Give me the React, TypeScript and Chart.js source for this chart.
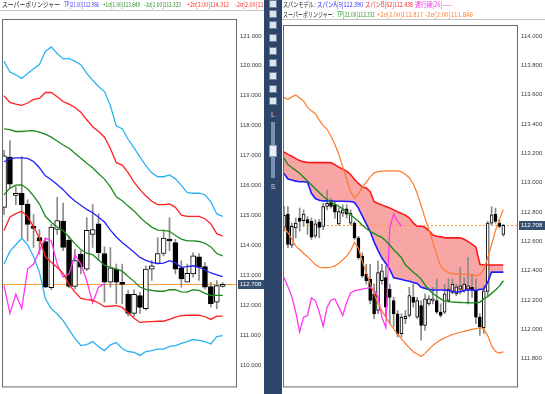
import React, { useEffect, useLayoutEffect, useRef } from 'react';
import { Chart, registerables } from 'chart.js';

Chart.register(...registerables);

// ---------------- LEFT PANEL (super bollinger, 38 bars) ----------------
const L_OPEN = [115.28,116.96,115.68,115.75,115.39,114.65,114.27,114.14,112.60,114.54,114.82,114.18,112.64,113.72,113.22,114.38,114.73,113.74,112.78,113.22,112.78,112.38,111.74,112.34,111.90,113.22,113.41,113.74,114.22,114.10,113.26,112.78,113.06,113.63,113.30,112.64,112.12,112.64];
const L_HIGH = [117.18,117.51,115.97,116.97,115.53,115.04,114.54,114.25,114.71,115.61,115.42,114.32,113.88,113.83,114.93,115.37,115.06,113.96,113.94,113.39,113.39,112.51,112.53,112.45,113.33,113.50,114.27,114.49,114.93,114.21,113.50,113.39,113.77,113.74,113.44,112.78,112.84,112.77];
const L_LOW = [115.04,115.92,115.37,114.27,114.16,113.94,113.72,112.60,112.53,114.38,113.83,112.60,112.56,113.06,113.17,113.94,113.50,112.12,112.62,112.07,112.07,111.65,111.63,111.74,111.85,112.84,113.39,113.66,113.83,113.06,112.62,112.78,112.95,112.84,112.56,111.96,111.90,112.62];
const L_CLOSE = [117.00,116.05,115.75,115.37,114.71,114.58,114.16,112.62,114.62,114.84,113.94,112.64,113.50,113.28,114.51,114.54,113.77,112.78,113.26,112.78,112.71,111.74,112.38,111.94,113.22,113.33,113.74,114.25,114.16,113.22,112.89,113.08,113.66,113.28,112.62,112.07,112.67,112.71];
const L_P3 = [120.15,119.79,119.70,119.58,119.74,119.90,120.04,120.48,120.63,120.41,120.23,120.25,120.15,120.04,119.75,119.52,119.31,119.14,118.67,117.99,117.90,117.55,117.26,116.96,116.67,116.43,116.30,116.30,116.36,116.23,116.01,115.77,115.75,115.75,115.70,115.46,115.06,114.98];
const L_P2 = [119.00,118.78,118.72,118.68,118.76,118.88,118.91,119.11,119.11,118.97,118.81,118.72,118.61,118.45,118.20,117.97,117.81,117.62,117.24,116.77,116.69,116.44,116.12,115.87,115.66,115.48,115.37,115.37,115.39,115.28,115.02,114.98,114.98,114.98,114.90,114.73,114.40,114.32];
const L_P1 = [117.90,117.87,117.81,117.81,117.83,117.84,117.79,117.72,117.62,117.49,117.36,117.25,117.08,116.92,116.75,116.60,116.40,116.22,115.96,115.63,115.50,115.32,115.16,114.95,114.77,114.62,114.52,114.51,114.48,114.34,114.22,114.16,114.16,114.14,114.08,113.96,113.74,113.66];
const L_TP = [116.80,116.90,116.93,116.93,116.91,116.81,116.60,116.33,116.20,116.04,115.87,115.66,115.49,115.35,115.21,115.10,114.95,114.79,114.52,114.29,114.11,113.95,113.78,113.61,113.51,113.44,113.40,113.42,113.50,113.43,113.28,113.30,113.33,113.28,113.19,113.09,113.03,112.97];
const L_M1 = [115.70,115.92,116.02,116.03,115.89,115.66,115.39,114.98,114.78,114.62,114.50,114.29,114.07,113.87,113.75,113.70,113.52,113.35,113.28,113.22,113.15,112.97,112.81,112.62,112.54,112.51,112.48,112.48,112.53,112.53,112.46,112.45,112.53,112.51,112.41,112.34,112.34,112.34];
const L_M2 = [114.51,114.96,115.07,115.15,114.97,114.63,114.25,113.63,113.45,113.28,113.08,112.71,112.45,112.24,112.20,112.18,112.09,111.97,111.98,112.00,111.94,111.76,111.58,111.44,111.46,111.47,111.48,111.48,111.54,111.62,111.67,111.68,111.68,111.68,111.63,111.54,111.65,111.65];
const L_M3 = [113.39,113.81,114.03,114.25,114.03,113.63,113.11,112.23,111.90,111.72,111.50,111.20,110.91,110.67,110.70,110.80,110.63,110.50,110.69,110.77,110.57,110.47,110.44,110.34,110.47,110.50,110.55,110.55,110.64,110.67,110.74,110.80,110.87,110.84,110.80,110.72,110.97,111.00];
const L_LAG = [112.68,111.74,112.38,111.90,113.22,113.39,113.83,114.25,114.16,113.39,112.95,113.06,113.70,113.39,112.84,112.09,112.62,112.73];
const L_TICKS = [110, 111, 112, 113, 114, 115, 116, 117, 118, 119, 120, 121];
const L_LAST = 112.708;

// ---------------- RIGHT PANEL (span model + bollinger, 57 bars) ----------------
const R_OPEN = [112.695,112.785,112.574,112.691,112.758,112.740,112.747,112.736,112.634,112.731,112.702,112.837,112.871,112.848,112.718,112.792,112.821,112.724,112.724,112.623,112.499,112.376,112.342,112.241,112.128,112.331,112.353,112.274,112.196,112.106,111.971,112.072,112.094,112.218,112.083,112.162,112.027,112.173,112.196,112.196,112.117,112.117,112.196,112.252,112.241,112.274,112.263,112.274,112.286,112.263,112.083,112.011,112.259,112.724,112.785,112.724,112.646];
const R_HIGH = [112.837,112.837,112.724,112.758,112.826,112.814,112.769,112.758,112.747,112.747,112.859,112.949,112.893,112.871,112.826,112.848,112.848,112.814,112.736,112.634,112.522,112.443,112.443,112.308,112.466,112.443,112.432,112.308,112.218,112.128,112.106,112.128,112.286,112.308,112.218,112.196,112.241,112.229,112.286,112.342,112.173,112.308,112.342,112.342,112.308,112.421,112.353,112.488,112.376,112.342,112.106,112.297,112.736,112.837,112.826,112.747,112.716];
const R_LOW = [112.668,112.556,112.556,112.623,112.668,112.702,112.646,112.612,112.623,112.623,112.679,112.814,112.826,112.758,112.709,112.769,112.758,112.709,112.612,112.477,112.353,112.308,112.173,112.072,112.106,112.308,112.083,112.038,112.016,111.948,111.948,112.038,112.083,112.151,112.072,111.926,111.993,112.162,112.173,112.106,112.083,112.106,112.184,112.241,112.229,112.241,112.252,112.173,112.218,112.038,111.959,111.971,112.229,112.713,112.724,112.691,112.634];
const R_CLOSE = [112.776,112.578,112.702,112.724,112.736,112.785,112.724,112.628,112.718,112.695,112.837,112.859,112.837,112.799,112.803,112.814,112.785,112.792,112.623,112.488,112.364,112.331,112.196,112.106,112.387,112.398,112.151,112.218,112.106,111.971,112.083,112.088,112.229,112.184,112.196,112.027,112.207,112.207,112.207,112.117,112.094,112.241,112.274,112.308,112.290,112.297,112.308,112.297,112.268,112.083,112.016,112.263,112.724,112.781,112.736,112.702,112.708];
const R_SPAN_B = [113.208,113.192,113.179,113.163,113.150,113.141,113.138,113.136,113.136,113.136,113.136,113.136,113.136,113.122,113.105,113.091,113.078,113.055,113.021,112.994,112.970,112.963,112.938,112.871,112.857,112.848,112.837,112.826,112.814,112.801,112.790,112.778,112.758,112.724,112.702,112.702,112.695,112.673,112.643,112.634,112.630,112.625,112.623,112.623,112.623,112.623,112.614,112.598,112.580,112.560,112.443,112.438,112.438,112.438,112.438,112.438,112.438];
const R_SPAN_A = [113.062,113.024,113.017,113.010,113.006,113.006,113.003,112.927,112.891,112.880,112.875,112.875,112.875,112.873,112.873,112.873,112.871,112.871,112.864,112.826,112.772,112.719,112.666,112.596,112.538,112.486,112.449,112.409,112.351,112.346,112.340,112.333,112.328,112.319,112.313,112.286,112.279,112.272,112.268,112.268,112.268,112.268,112.265,112.259,112.254,112.256,112.265,112.268,112.268,112.265,112.272,112.274,112.319,112.390,112.390,112.390,112.390];
const R_TP = [113.167,113.123,113.103,113.083,113.064,113.037,113.011,112.985,112.958,112.932,112.905,112.885,112.867,112.854,112.838,112.821,112.803,112.781,112.759,112.736,112.709,112.687,112.667,112.654,112.639,112.626,112.604,112.574,112.542,112.516,112.487,112.440,112.414,112.389,112.369,112.342,112.302,112.270,112.244,112.225,112.207,112.194,112.190,112.185,112.184,112.183,112.182,112.181,112.180,112.182,112.184,112.209,112.223,112.245,112.268,112.294,112.331];
const R_UP2 = [113.579,113.568,113.584,113.597,113.577,113.555,113.514,113.489,113.469,113.426,113.390,113.363,113.316,113.260,113.192,113.107,113.021,112.938,112.895,112.925,112.965,113.003,113.039,113.066,113.075,113.078,113.080,113.080,113.080,113.080,113.073,113.055,113.033,112.992,112.927,112.844,112.758,112.677,112.592,112.506,112.430,112.403,112.385,112.380,112.378,112.376,112.376,112.371,112.369,112.364,112.373,112.405,112.488,112.578,112.673,112.751,112.817];
const R_LO2 = [112.691,112.659,112.614,112.567,112.544,112.517,112.495,112.468,112.441,112.423,112.421,112.421,112.423,112.432,112.450,112.472,112.499,112.535,112.592,112.553,112.463,112.385,112.313,112.241,112.178,112.126,112.081,112.040,112.002,111.968,111.935,111.903,111.874,111.847,111.831,111.815,111.836,111.863,111.890,111.910,111.928,111.941,111.953,111.964,111.973,111.980,111.986,111.993,112.000,112.004,112.011,112.004,111.957,111.887,111.849,111.838,111.846];
const R_LAG = [112.353,112.290,112.223,112.117,111.982,112.083,112.094,112.214,112.196,112.117,112.020,112.151,112.200,112.207,112.151,112.094,112.184,112.247,112.263,112.268,112.274,112.279,112.286,112.268,112.223,112.083,112.011,112.691,112.785,112.736,112.704];
const R_TICKS = [111.8, 112.0, 112.2, 112.4, 112.6, 112.8, 113.0, 113.2, 113.4, 113.6, 113.8, 114.0];
const R_LAST = 112.708;

// ---------------- header texts ----------------
type Seg = { text: string; x: number; y: number; w: number; color: string };
const LEFT_HEADER: Seg[] = [
  { text: 'スーパーボリンジャー', x: 2, y: 0, w: 58, color: '#1e1e1e' },
  { text: 'TP[21.00]112.986', x: 64, y: 0, w: 35, color: '#3a3aff' },
  { text: '+1σ[1.00]113.649', x: 103, y: 0, w: 37, color: '#2a8f2a' },
  { text: '-1σ[1.00]112.323', x: 144, y: 0, w: 37, color: '#2a8f2a' },
  { text: '+2σ[2.00]114.312', x: 187, y: 0, w: 42, color: '#ff2e2e' },
  { text: '-2σ[2.00]111.660', x: 235, y: 0, w: 42, color: '#ff2e2e' },
];
const RIGHT_HEADER: Seg[] = [
  { text: 'スパンモデル:', x: 283, y: 0, w: 32, color: '#1e1e1e' },
  { text: 'スパンA[9]112.390', x: 317, y: 0, w: 46, color: '#2a2aff' },
  { text: 'スパンB[52]112.438', x: 365, y: 0, w: 48, color: '#ff2424' },
  { text: '遅行線[26]——', x: 415, y: 0, w: 37, color: '#ff2cf0' },
  { text: 'スーパーボリンジャー:', x: 283, y: 10, w: 51, color: '#1e1e1e' },
  { text: 'TP[21.00]112.331', x: 337, y: 10, w: 38, color: '#2a8f2a' },
  { text: '+2σ[2.00]112.817', x: 377, y: 10, w: 46, color: '#ff7f2e' },
  { text: '-2σ[2.00]111.846', x: 425, y: 10, w: 48, color: '#ff7f2e' },
];
const TOOL_ICONS = [0, 10, 21, 34, 47, 59, 72, 85, 97];

// ---------------- helpers ----------------
function candleSets(o: number[], h: number[], l: number[], c: number[], bodyW: number) {
  return [
    {
      type: 'bar', label: 'wick', order: 20, grouped: false, barThickness: 1, borderWidth: 0,
      backgroundColor: '#8a8a8a',
      data: h.map((v, i) => ({ x: i, y: [l[i], v] })),
    },
    {
      type: 'bar', label: 'body', order: 10, grouped: false, barThickness: bodyW,
      borderWidth: 1, borderSkipped: false, borderColor: '#000000',
      backgroundColor: c.map((v, i) => (v >= o[i] ? '#ffffff' : '#000000')),
      data: o.map((v, i) => ({ x: i, y: [v, c[i]] })),
    },
  ];
}

function lineSet(values: number[], color: string, width: number, extra: any = {}) {
  return {
    type: 'line', order: 1, borderColor: color, borderWidth: width, pointRadius: 0, tension: 0, fill: false,
    data: values.map((v, i) => ({ x: i, y: v })),
    ...extra,
  };
}

function lastPricePlugin(last: number, dashed: boolean) {
  return {
    id: 'lastPrice',
    beforeDatasetsDraw(chart: any) {
      const { ctx, chartArea: a } = chart;
      const py = Math.round(chart.scales.y.getPixelForValue(last)) + 0.5;
      ctx.save();
      ctx.strokeStyle = '#ff9a3c';
      ctx.lineWidth = 1;
      ctx.setLineDash(dashed ? [2, 2] : []);
      ctx.beginPath();
      ctx.moveTo(a.left, py);
      ctx.lineTo(a.right, py);
      ctx.stroke();
      ctx.restore();
    },
    afterDraw(chart: any) {
      const { ctx, chartArea: a, width } = chart;
      ctx.save();
      ctx.strokeStyle = '#6a6a6a';
      ctx.lineWidth = 1;
      ctx.strokeRect(a.left + 0.5, a.top + 0.5, a.right - a.left - 1, a.bottom - a.top - 1);
      const py = Math.round(chart.scales.y.getPixelForValue(last));
      ctx.fillStyle = '#35516f';
      ctx.fillRect(a.right + 1, py - 4, width - a.right - 1, 9);
      ctx.fillStyle = '#ffffff';
      ctx.font = '6px "Liberation Sans", Arial, sans-serif';
      ctx.textBaseline = 'middle';
      ctx.textAlign = 'left';
      ctx.fillText(last.toFixed(3), a.right + 3, py + 0.5);
      ctx.restore();
    },
  };
}

function baseOptions(o: { padLeft: number; padTop: number; axisW: number; xMin: number; xMax: number; yMin: number; yMax: number; ticks: number[] }) {
  return {
    responsive: false,
    animation: false,
    events: [],
    layout: { padding: { left: o.padLeft, top: o.padTop, right: 0, bottom: 3 } },
    plugins: {
      legend: { display: false },
      tooltip: { enabled: false },
      filler: { drawTime: 'beforeDatasetsDraw' },
    },
    scales: {
      x: { type: 'linear', min: o.xMin, max: o.xMax, display: false, offset: false },
      y: {
        type: 'linear', position: 'right', min: o.yMin, max: o.yMax, beginAtZero: false,
        grid: { display: false, drawTicks: false },
        border: { display: false },
        ticks: {
          color: '#3a3a3a', padding: 3, autoSkip: false,
          font: { size: 6, family: '"Liberation Sans", Arial, sans-serif' },
          callback: (v: any) => Number(v).toFixed(3),
        },
        afterBuildTicks: (ax: any) => { ax.ticks = o.ticks.map((v) => ({ value: v })); },
        afterFit: (ax: any) => { ax.width = o.axisW; },
      },
    },
  };
}

function buildLeft(): any {
  return {
    type: 'bar',
    data: {
      datasets: [
        ...candleSets(L_OPEN, L_HIGH, L_LOW, L_CLOSE, 5),
        lineSet(L_P3, '#2bb3f0', 1.3),
        lineSet(L_P2, '#ff2020', 1.3),
        lineSet(L_P1, '#1e8a1e', 1.3),
        lineSet(L_TP, '#2222ff', 1.3),
        lineSet(L_M1, '#1e8a1e', 1.3),
        lineSet(L_M2, '#ff2020', 1.3),
        lineSet(L_M3, '#2bb3f0', 1.3),
        lineSet(L_LAG, '#ff36f0', 1.3),
      ],
    },
    options: baseOptions({ padLeft: 2, padTop: 19, axisW: 28, xMin: -0.34, xMax: 39.42, yMin: 109.273, yMax: 121.562, ticks: L_TICKS }),
    plugins: [lastPricePlugin(L_LAST, false)],
  };
}

function buildRight(): any {
  return {
    type: 'bar',
    data: {
      datasets: [
        lineSet(R_SPAN_B, '#ff1a1a', 1.6, { order: 2 }),
        lineSet(R_SPAN_A, '#1c1cff', 1.6, { order: 2, fill: '-1', backgroundColor: '#f8a5a5' }),
        ...candleSets(R_OPEN, R_HIGH, R_LOW, R_CLOSE, 3),
        lineSet(R_UP2, '#ff7a2a', 1.2),
        lineSet(R_LO2, '#ff7a2a', 1.2),
        lineSet(R_TP, '#1e8a1e', 1.4),
        lineSet(R_LAG, '#ff36f0', 1.3),
      ],
    },
    options: baseOptions({ padLeft: 2, padTop: 25, axisW: 27, xMin: -0.255, xMax: 59.74, yMin: 111.604, yMax: 114.074, ticks: R_TICKS }),
    plugins: [lastPricePlugin(R_LAST, true)],
  };
}

function ChartCanvas({ left, width, build }: { left: number; width: number; build: () => any }) {
  const ref = useRef<HTMLCanvasElement | null>(null);
  useEffect(() => {
    if (!ref.current) return;
    const chart = new Chart(ref.current, build());
    return () => chart.destroy();
  }, []);
  return <canvas ref={ref} width={width} height={394} style={{ position: 'absolute', left, top: 0 }} />;
}

function FitText({ seg }: { seg: Seg }) {
  const ref = useRef<HTMLSpanElement | null>(null);
  useLayoutEffect(() => {
    const el = ref.current;
    if (!el) return;
    el.style.transform = 'none';
    const natural = el.getBoundingClientRect().width;
    if (natural > 0) el.style.transform = `scaleX(${seg.w / natural})`;
  }, [seg]);
  return (
    <span
      ref={ref}
      style={{
        position: 'absolute', left: seg.x, top: seg.y, color: seg.color, whiteSpace: 'nowrap',
        fontSize: 7, lineHeight: '9px', fontFamily: '"Noto Sans CJK JP", "Noto Sans", sans-serif',
        transformOrigin: '0 0',
      }}
    >
      {seg.text}
    </span>
  );
}

export default function App() {
  return (
    <div style={{ position: 'fixed', left: 0, top: 0, width: 545, height: 394, background: '#ffffff', overflow: 'hidden' }}>
      <ChartCanvas left={0} width={265} build={buildLeft} />
      <ChartCanvas left={281} width={264} build={buildRight} />
      <div style={{ position: 'absolute', left: 0, top: 0, width: 264, height: 12, overflow: 'hidden' }}>
        {LEFT_HEADER.map((s, i) => <FitText key={i} seg={s} />)}
      </div>
      <div style={{ position: 'absolute', left: 0, top: 10, width: 264, height: 1, background: '#c4c4c4' }} />
      <div style={{ position: 'absolute', left: 0, top: 0, width: 545, height: 22, overflow: 'hidden', pointerEvents: 'none' }}>
        {RIGHT_HEADER.map((s, i) => <FitText key={i} seg={s} />)}
      </div>
      <div style={{ position: 'absolute', left: 282, top: 19, width: 263, height: 1, background: '#c4c4c4' }} />
      <div style={{ position: 'absolute', left: 264, top: 0, width: 18, height: 394, background: '#2d4569', zIndex: 3 }}>
        {TOOL_ICONS.map((t, i) => (
          <div key={i} style={{ position: 'absolute', left: 5, top: t, width: 8, height: 8, background: '#dfe5ef', border: '1px solid #6d7f9e', boxSizing: 'border-box' }} />
        ))}
        <div style={{ position: 'absolute', left: 0, top: 110, width: 18, textAlign: 'center', color: '#c9d3e6', fontSize: 7, lineHeight: '9px', fontFamily: '"Liberation Sans", Arial, sans-serif' }}>L</div>
        <div style={{ position: 'absolute', left: 7, top: 122, width: 4, height: 56, background: '#7b8fb3' }} />
        <div style={{ position: 'absolute', left: 5, top: 145, width: 8, height: 12, background: '#e9eef7', border: '1px solid #8c9cba', boxSizing: 'border-box' }} />
        <div style={{ position: 'absolute', left: 0, top: 182, width: 18, textAlign: 'center', color: '#c9d3e6', fontSize: 7, lineHeight: '9px', fontFamily: '"Liberation Sans", Arial, sans-serif' }}>S</div>
      </div>
    </div>
  );
}
